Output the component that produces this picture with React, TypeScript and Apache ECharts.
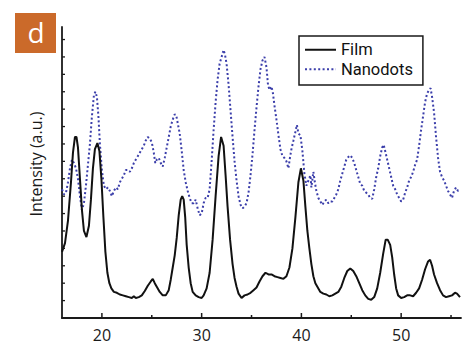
import React, { useEffect, useRef } from "react";
import * as echarts from "echarts";

const FONT = "'Open Sans', 'Noto Sans', sans-serif";
const LEGEND_FONT = "Roboto, 'Open Sans', sans-serif";

const seriesNames = ["Film", "Nanodots"];
const xTickLabels = [20, 30, 40, 50];
const xMinorTicks = [25, 35, 45, 55];
const yTicks = [1, 2, 3, 4, 5, 6, 7, 8, 9, 10, 11, 12, 13, 14, 15, 16];
const yAxisTitle = "Intensity (a.u.)";
const panelLabel = "d";

const filmData: [number, number][] = [
  [16.0, 3.8], [16.3, 4.3], [16.6, 5.6], [16.9, 7.8], [17.1, 9.5], [17.3, 10.4], [17.45, 10.4], [17.6, 9.8],
  [17.8, 8.0], [18.0, 6.2], [18.2, 5.0], [18.45, 4.65], [18.7, 5.3], [18.9, 6.8], [19.1, 8.6], [19.3, 9.7],
  [19.55, 10.05], [19.75, 9.6], [19.95, 8.0], [20.15, 5.8], [20.35, 3.8], [20.55, 2.6], [20.75, 2.0], [20.95, 1.7],
  [21.2, 1.5], [21.5, 1.45], [21.8, 1.35], [22.1, 1.3], [22.4, 1.25], [22.7, 1.2], [23.0, 1.15], [23.2, 1.25],
  [23.4, 1.15], [23.7, 1.2], [24.0, 1.3], [24.3, 1.55], [24.6, 1.85], [24.9, 2.1], [25.1, 2.25], [25.3, 2.0],
  [25.5, 1.8], [25.8, 1.5], [26.1, 1.3], [26.4, 1.3], [26.7, 1.6], [26.9, 2.2], [27.1, 2.9], [27.3, 3.6],
  [27.5, 4.6], [27.7, 5.9], [27.9, 6.8], [28.05, 7.0], [28.2, 6.8], [28.35, 5.8], [28.5, 4.2], [28.7, 2.9],
  [28.9, 2.0], [29.1, 1.5], [29.4, 1.3], [29.7, 1.2], [30.0, 1.15], [30.2, 1.3], [30.5, 1.7], [30.8, 2.6],
  [31.1, 4.5], [31.4, 7.0], [31.7, 9.3], [31.95, 10.4], [32.2, 9.9], [32.4, 8.2], [32.6, 6.4], [32.85, 4.5],
  [33.1, 3.1], [33.3, 2.3], [33.5, 1.8], [33.7, 1.4], [34.0, 1.15], [34.3, 1.3], [34.6, 1.35], [34.9, 1.45],
  [35.2, 1.6], [35.5, 1.75], [35.8, 2.1], [36.1, 2.4], [36.4, 2.6], [36.7, 2.5], [37.0, 2.5], [37.3, 2.4],
  [37.6, 2.35], [37.9, 2.3], [38.2, 2.25], [38.5, 2.4], [38.8, 2.9], [39.1, 4.0], [39.4, 5.8], [39.7, 7.8],
  [39.95, 8.6], [40.2, 7.9], [40.4, 6.4], [40.6, 5.0], [40.8, 4.0], [41.0, 3.1], [41.2, 2.4], [41.4, 2.0],
  [41.6, 1.8], [41.9, 1.5], [42.2, 1.4], [42.5, 1.35], [42.8, 1.25], [43.1, 1.3], [43.4, 1.4], [43.7, 1.5],
  [44.0, 1.8], [44.3, 2.3], [44.6, 2.7], [44.9, 2.85], [45.2, 2.7], [45.5, 2.4], [45.8, 2.0], [46.1, 1.6],
  [46.4, 1.3], [46.7, 1.1], [47.0, 1.05], [47.3, 1.2], [47.6, 1.7], [47.9, 2.6], [48.2, 3.7], [48.45, 4.5],
  [48.65, 4.5], [48.9, 4.2], [49.1, 3.5], [49.3, 2.5], [49.5, 1.7], [49.7, 1.3], [50.0, 1.15], [50.3, 1.2],
  [50.6, 1.3], [50.9, 1.3], [51.2, 1.25], [51.5, 1.45], [51.8, 1.7], [52.1, 2.2], [52.4, 2.8], [52.7, 3.25],
  [52.9, 3.35], [53.1, 3.0], [53.3, 2.5], [53.6, 2.0], [53.9, 1.6], [54.2, 1.3], [54.5, 1.2], [54.8, 1.25],
  [55.1, 1.3], [55.4, 1.45], [55.6, 1.4], [55.9, 1.2],
];

const nanodotsData: [number, number][] = [
  [16.0, 7.4], [16.2, 7.1], [16.4, 7.2], [16.6, 7.8], [16.8, 8.6], [17.0, 9.1], [17.2, 8.9], [17.4, 8.6],
  [17.6, 8.0], [17.8, 7.0], [18.0, 6.2], [18.2, 6.6], [18.4, 7.6], [18.6, 8.8], [18.8, 10.0], [19.0, 11.6],
  [19.2, 12.8], [19.35, 13.0], [19.5, 12.7], [19.65, 11.6], [19.8, 10.0], [20.0, 8.5], [20.2, 7.6], [20.4, 7.4],
  [20.6, 7.5], [20.8, 7.3], [21.0, 7.0], [21.2, 7.3], [21.4, 7.5], [21.6, 7.4], [21.8, 7.8], [22.0, 8.0],
  [22.2, 8.2], [22.4, 8.5], [22.6, 8.5], [22.8, 8.4], [23.0, 8.6], [23.2, 8.9], [23.4, 9.1], [23.6, 9.3],
  [23.8, 9.5], [24.0, 9.7], [24.2, 9.9], [24.4, 10.2], [24.6, 10.4], [24.8, 10.3], [25.0, 10.1], [25.2, 9.5],
  [25.35, 8.9], [25.5, 9.1], [25.7, 9.2], [25.9, 8.9], [26.1, 8.7], [26.3, 9.2], [26.5, 9.8], [26.7, 10.4],
  [26.9, 11.0], [27.1, 11.4], [27.3, 11.7], [27.45, 11.65], [27.6, 11.2], [27.8, 10.6], [28.0, 9.6], [28.2, 8.5],
  [28.4, 7.8], [28.6, 7.3], [28.8, 6.9], [29.0, 6.6], [29.2, 6.6], [29.4, 6.8], [29.6, 6.3], [29.8, 5.9],
  [30.0, 6.0], [30.2, 6.6], [30.4, 6.9], [30.6, 6.9], [30.8, 7.4], [31.0, 9.0], [31.2, 10.8], [31.4, 12.4],
  [31.6, 13.7], [31.8, 14.6], [32.0, 15.0], [32.2, 15.4], [32.35, 15.1], [32.5, 14.6], [32.7, 13.4], [32.9, 11.9],
  [33.1, 10.4], [33.3, 9.0], [33.5, 7.9], [33.7, 7.0], [33.9, 6.5], [34.1, 6.3], [34.3, 6.4], [34.5, 6.6],
  [34.7, 7.2], [34.9, 8.2], [35.1, 9.4], [35.3, 10.8], [35.5, 12.1], [35.7, 13.3], [35.9, 14.3], [36.1, 14.8],
  [36.3, 15.0], [36.5, 14.4], [36.65, 13.4], [36.8, 13.1], [37.0, 13.3], [37.15, 12.9], [37.3, 12.2], [37.5, 11.4],
  [37.7, 10.5], [37.9, 9.7], [38.1, 9.3], [38.3, 9.2], [38.5, 9.0], [38.7, 8.6], [38.85, 9.2], [39.0, 9.7],
  [39.2, 10.2], [39.4, 10.7], [39.55, 11.1], [39.7, 10.6], [39.9, 10.5], [40.1, 9.6], [40.3, 8.3], [40.5, 7.6],
  [40.7, 7.9], [40.9, 8.2], [41.0, 7.5], [41.2, 8.4], [41.35, 7.8], [41.5, 7.3], [41.7, 6.9], [41.9, 6.7],
  [42.1, 6.5], [42.3, 6.7], [42.5, 6.8], [42.7, 6.6], [42.9, 6.7], [43.1, 6.7], [43.3, 6.9], [43.5, 7.1],
  [43.7, 7.4], [43.9, 7.9], [44.1, 8.3], [44.3, 8.7], [44.5, 9.1], [44.7, 9.25], [44.9, 9.35], [45.1, 9.2],
  [45.3, 8.9], [45.5, 8.5], [45.7, 8.1], [45.9, 7.7], [46.1, 7.6], [46.3, 7.3], [46.5, 7.2], [46.7, 7.1],
  [46.9, 6.9], [47.1, 6.85], [47.3, 7.4], [47.5, 8.1], [47.7, 8.6], [47.9, 9.3], [48.1, 9.8], [48.25, 9.95],
  [48.4, 9.6], [48.6, 9.1], [48.8, 8.6], [49.0, 8.1], [49.2, 7.6], [49.4, 7.4], [49.6, 7.1], [49.8, 6.9],
  [50.0, 6.7], [50.2, 6.8], [50.4, 7.2], [50.6, 7.5], [50.8, 7.9], [51.0, 8.1], [51.2, 8.4], [51.4, 8.8],
  [51.6, 9.1], [51.8, 9.9], [52.0, 10.8], [52.2, 11.6], [52.4, 12.4], [52.6, 12.9], [52.8, 13.1], [52.95, 13.2],
  [53.1, 12.7], [53.3, 11.8], [53.5, 10.4], [53.7, 9.2], [53.9, 8.4], [54.1, 8.1], [54.3, 7.9], [54.5, 7.6],
  [54.7, 7.3], [54.9, 7.1], [55.1, 6.9], [55.3, 7.3], [55.5, 7.5], [55.7, 7.3], [55.9, 7.4],
];

const X_MIN = 16;
const X_MAX = 56;
const Y_MAX = 16.72;

const AXIS_COLOR = "#1a1a1a";
const BLUE = "#3b3eaa";

export default function App() {
  const ref = useRef<HTMLDivElement>(null);

  useEffect(() => {
    document.body.style.margin = "0";
    if (!ref.current) return;
    const chart = echarts.init(ref.current, null, { renderer: "svg" });

    const xTickSeries = (vals: number[], len: number, name: string) => ({
      type: "custom",
      name,
      coordinateSystem: "cartesian2d",
      silent: true,
      clip: false,
      z: 6,
      data: vals.map((v) => [v, 0]),
      renderItem: (_p: any, api: any) => {
        const pt = api.coord([api.value(0), 0]);
        return {
          type: "line",
          shape: { x1: pt[0], y1: pt[1], x2: pt[0], y2: pt[1] - len },
          style: { stroke: AXIS_COLOR, lineWidth: 1.5 },
        };
      },
    });

    const option: any = {
      animation: false,
      backgroundColor: "#ffffff",
      grid: { left: 62, right: 4, top: 27, bottom: 28, containLabel: false },
      xAxis: {
        type: "value",
        min: X_MIN,
        max: X_MAX,
        interval: 2,
        axisLine: { show: true, onZero: false, lineStyle: { color: AXIS_COLOR, width: 1.8 } },
        axisTick: { show: false },
        splitLine: { show: false },
        axisLabel: {
          show: true,
          margin: 9,
          color: "#1a1a1a",
          fontFamily: FONT,
          fontSize: 16,
          formatter: (v: number) => (xTickLabels.includes(v) ? String(v) : ""),
        },
      },
      yAxis: {
        type: "value",
        min: 0,
        max: Y_MAX,
        axisLine: { show: true, onZero: false, lineStyle: { color: AXIS_COLOR, width: 1.8 } },
        axisTick: { show: false },
        axisLabel: { show: false },
        splitLine: { show: false },
      },
      legend: {
        data: seriesNames,
        orient: "vertical",
        left: 299,
        top: 36,
        borderColor: "#1a1a1a",
        borderWidth: 1.5,
        borderRadius: 0,
        padding: [4, 10, 6, 5],
        itemWidth: 31,
        itemHeight: 14,
        itemGap: 0,
        itemStyle: { opacity: 0 },
        textStyle: { fontFamily: LEGEND_FONT, fontSize: 16.5, color: "#111", lineHeight: 19.5 },
        selectedMode: false,
      },
      graphic: [
        {
          type: "rect",
          left: 15,
          top: 13,
          shape: { width: 41, height: 40 },
          style: { fill: "#cb6a2a" },
        },
        {
          type: "text",
          x: 36,
          y: 32,
          style: {
            text: panelLabel,
            fill: "#ffffff",
            fontFamily: FONT,
            fontSize: 28,
            align: "center",
            verticalAlign: "middle",
          },
        },
        {
          type: "text",
          x: 36,
          y: 164,
          rotation: Math.PI / 2,
          style: {
            text: yAxisTitle,
            fill: "#1a1a1a",
            fontFamily: FONT,
            fontSize: 16,
            align: "center",
            verticalAlign: "middle",
          },
        },
      ],
      series: [
        {
          name: "Nanodots",
          type: "line",
          data: nanodotsData,
          symbol: "none",
          showSymbol: false,
          smooth: false,
          lineStyle: { color: BLUE, width: 2, type: [2, 2.4] },
          itemStyle: { color: BLUE },
          z: 3,
        },
        {
          name: "Film",
          type: "line",
          data: filmData,
          symbol: "none",
          showSymbol: false,
          smooth: false,
          lineStyle: { color: "#111", width: 2 },
          itemStyle: { color: "#111" },
          z: 4,
        },
        xTickSeries(xTickLabels, 5, "xMajor"),
        xTickSeries(xMinorTicks, 3, "xMinor"),
        {
          type: "custom",
          name: "yTicks",
          coordinateSystem: "cartesian2d",
          silent: true,
          clip: false,
          z: 6,
          data: yTicks.map((v) => [X_MIN, v]),
          renderItem: (_p: any, api: any) => {
            const pt = api.coord([api.value(0), api.value(1)]);
            return {
              type: "line",
              shape: { x1: pt[0], y1: pt[1], x2: pt[0] + 3, y2: pt[1] },
              style: { stroke: AXIS_COLOR, lineWidth: 1.3 },
            };
          },
        },
      ],
    };

    chart.setOption(option);
    return () => chart.dispose();
  }, []);

  return <div ref={ref} style={{ width: 465, height: 346 }} />;
}
